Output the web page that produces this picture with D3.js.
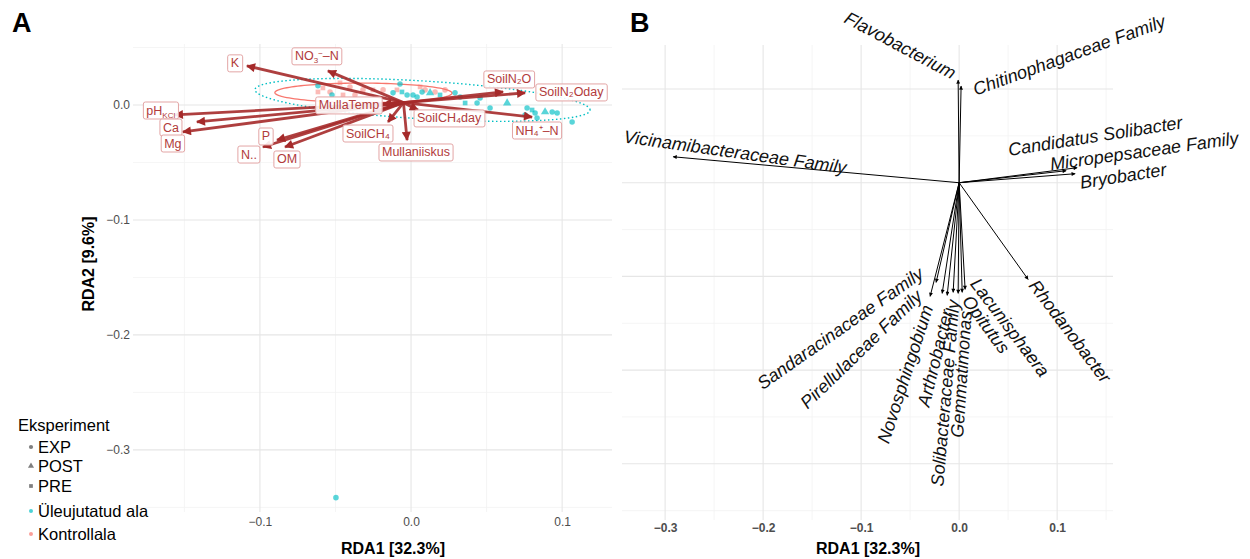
<!DOCTYPE html>
<html>
<head>
<meta charset="utf-8">
<script src="https://cdn.jsdelivr.net/npm/d3@7"></script>
<style>
  body { margin: 0; background: #fff; }
  svg { font-family: 'Liberation Sans', Arial, sans-serif; }
</style>
</head>
<body>
<div id="chart"></div>
<script>
// ---- panel A: environmental vectors (RDA biplot) ----
const envLabels = ['K', 'NO_{3}^{−}–N', 'pH_{KCl}', 'Ca', 'Mg', 'P', 'N..', 'OM', 'MullaTemp',
  'SoilN₂O', 'SoilN₂Oday', 'SoilCH₄day', 'NH₄⁺–N', 'SoilCH₄', 'Mullaniiskus']
const envX = [-0.1086, -0.055, -0.1563, -0.1417, -0.151, -0.0887, -0.098, -0.0834, -0.0185,
  0.0609, 0.0755, 0.0046, 0.0801, -0.0152, -0.0026]
const envY = [0.034, 0.0296, -0.0087, -0.0148, -0.0235, -0.0305, -0.0366, -0.0366, 0.0009,
  0.0113, 0.0105, -0.0044, -0.0105, -0.0148, -0.0305]
const envLabelX = [-0.1166, -0.0623, -0.1656, -0.1589, -0.1576, -0.096, -0.1073, -0.0821, -0.0411,
  0.0649, 0.106, 0.0252, 0.0834, -0.0285, 0.0033]
const envLabelY = [0.0366, 0.0427, -0.0044, -0.0192, -0.0331, -0.027, -0.0427, -0.047, 0,
  0.0226, 0.0113, -0.0113, -0.0218, -0.0244, -0.0409]
const envOrigin = [-0.005, 0.002]

// site scores, flooded area
const floodX = [-0.0616, -0.0523, -0.0119, -0.006, -0.0026, -0.0073, 0.0013, 0.004, 0.0073, 0.0126,
  0.0192, 0.0291, 0.0325, 0.0358, 0.0437, 0.0523, 0.0636, 0.0755, 0.0768, 0.0801,
  0.0821, 0.0834, 0.0887, 0.0934, 0.0967, 0.1066, -0.0497, 0.0457]
const floodY = [0.0166, 0.0087, 0.0105, 0.0113, 0.0087, 0.0183, 0.0087, 0.007, 0.0113, 0.0105,
  0.0087, 0.0105, 0.007, 0.0017, 0.0017, -0.0026, 0.0017, -0.0087, -0.0026, -0.0044,
  -0.007, -0.0113, -0.0061, -0.0061, -0.007, -0.0148, -0.3415, 0.0061]
const floodExp = ['EXP', 'EXP', 'EXP', 'PRE', 'EXP', 'EXP', 'EXP', 'EXP', 'EXP', 'POST',
  'PRE', 'EXP', 'EXP', 'PRE', 'EXP', 'EXP', 'POST', 'EXP', 'EXP', 'PRE',
  'EXP', 'EXP', 'POST', 'EXP', 'EXP', 'EXP', 'EXP', 'EXP']

// site scores, control area
const controlX = [-0.0616, -0.0583, -0.0536, -0.047, -0.045, -0.0404, -0.0371, -0.0318, -0.0252,
  -0.0185, -0.0093, 0.006, 0.0093, 0.0159, 0.0225]
const controlY = [0.0113, 0.0148, 0.0113, 0.0192, 0.0087, 0.0157, 0.0087, 0.0131, 0.0131,
  0.0131, 0.0131, 0.0157, 0.0131, 0.0113, 0.0131]
const controlExp = ['PRE', 'PRE', 'EXP', 'PRE', 'PRE', 'EXP', 'EXP', 'EXP', 'PRE',
  'EXP', 'PRE', 'PRE', 'EXP', 'EXP', 'EXP']

// group ellipses (centre, half axes, tilt as dy/dx)
const ellipseGroups = ['Üleujutatud ala', 'Kontrollala']
const ellipseCx = [0.0076, -0.0315]
const ellipseCy = [0.0044, 0.0105]
const ellipseRx = [0.1109, 0.0586]
const ellipseRy = [0.0165, 0.0085]
const ellipseSlope = [-0.079, -0.004]

const legendShapes = ['EXP', 'POST', 'PRE']
const legendGroups = ['Üleujutatud ala', 'Kontrollala']

// ---- panel B: taxa vectors ----
const taxa = ['Flavobacterium', 'Chitinophagaceae Family', 'Vicinamibacteraceae Family',
  'Candidatus Solibacter', 'Micropepsaceae Family', 'Bryobacter', 'Rhodanobacter',
  'Lacunisphaera', 'Opitutus', 'Gemmatimonas', 'Solibacteraceae Family', 'Arthrobacter',
  'Novosphingobium', 'Pirellulaceae Family', 'Sandaracinaceae Family']
const taxaX = [-0.001, 0.002, -0.2918, 0.1204, 0.1092, 0.1184, 0.0704,
  0.0061, 0.0031, -0.001, -0.0061, -0.0122, -0.0173, -0.0296, -0.0235]
const taxaY = [0.1096, 0.1032, 0.0277, 0.016, 0.0128, 0.0096, -0.1032,
  -0.1138, -0.117, -0.1181, -0.117, -0.1202, -0.1181, -0.1213, -0.1064]
const taxaLabelX = [-0.06, 0.1122, -0.2286, 0.1388, 0.1888, 0.1673, 0.1133,
  0.052, 0.0276, 0.002, -0.0143, -0.0245, -0.0551, -0.1, -0.1214]
const taxaLabelY = [0.1468, 0.1362, 0.033, 0.05, 0.034, 0.0074, -0.1585,
  -0.1543, -0.1511, -0.2043, -0.2245, -0.1872, -0.2043, -0.1777, -0.1553]
const taxaAngle = [28, -20, 8, -9, -8, -9, 53, 53, 54, -86, -85, -76, -72, -44, -35]

const width = 1250
const height = 559
const gridMajor = '#e6e6e6'
const gridMinor = '#f3f3f3'
const tickColor = '#4d4d4d'
const cyan = '#00BFC4'
const salmon = '#F8766D'
const arrowRed = '#a52a2a'

const svg = d3.select('#chart').append('svg')
  .attr('width', width)
  .attr('height', height)
  .attr('viewBox', [0, 0, width, height])

const defs = svg.append('defs')

defs.append('marker')
  .attr('id', 'headA')
  .attr('viewBox', '0 0 10 10')
  .attr('refX', 9).attr('refY', 5)
  .attr('markerUnits', 'userSpaceOnUse')
  .attr('markerWidth', 10).attr('markerHeight', 9)
  .attr('orient', 'auto')
  .append('path')
  .attr('d', 'M0,0L10,5L0,10z')
  .attr('fill', arrowRed)

defs.append('marker')
  .attr('id', 'headB')
  .attr('viewBox', '0 0 10 10')
  .attr('refX', 9).attr('refY', 5)
  .attr('markerUnits', 'userSpaceOnUse')
  .attr('markerWidth', 5).attr('markerHeight', 4)
  .attr('orient', 'auto')
  .append('path')
  .attr('d', 'M0,0L10,5L0,10z')
  .attr('fill', '#000')

const grid = (g, x, y, xMajor, xMinor, yMajor, yMinor) => {
  const [x0, x1] = x.range()
  const [y0, y1] = y.range()
  g.selectAll('line.vmin').data(xMinor).join('line')
    .attr('x1', d => x(d)).attr('x2', d => x(d)).attr('y1', y0).attr('y2', y1)
    .attr('stroke', gridMinor).attr('stroke-width', 0.8)
  g.selectAll('line.hmin').data(yMinor).join('line')
    .attr('x1', x0).attr('x2', x1).attr('y1', d => y(d)).attr('y2', d => y(d))
    .attr('stroke', gridMinor).attr('stroke-width', 0.8)
  g.selectAll('line.vmaj').data(xMajor).join('line')
    .attr('class', 'vmaj')
    .attr('x1', d => x(d)).attr('x2', d => x(d)).attr('y1', y0).attr('y2', y1)
    .attr('stroke', gridMajor).attr('stroke-width', 1.1)
  g.selectAll('line.hmaj').data(yMajor).join('line')
    .attr('class', 'hmaj')
    .attr('x1', x0).attr('x2', x1).attr('y1', d => y(d)).attr('y2', d => y(d))
    .attr('stroke', gridMajor).attr('stroke-width', 1.1)
}

const fmt = d3.format('.1f')

// ================= Panel A =================
const xA = d3.scaleLinear().domain([-0.184, 0.133]).range([133, 612])
const yA = d3.scaleLinear().domain([0.053, -0.354]).range([44, 512])

const gA = svg.append('g')
grid(gA.append('g'), xA, yA, [-0.1, 0, 0.1], [-0.15, -0.05, 0.05],
  [0, -0.1, -0.2, -0.3], [0.05, -0.05, -0.15, -0.25, -0.35])

gA.append('g')
  .attr('transform', `translate(0,${yA.range()[1]})`)
  .call(d3.axisBottom(xA).tickValues([-0.1, 0, 0.1]).tickFormat(fmt).tickSize(0).tickPadding(5))
  .call(g => g.select('.domain').remove())
  .call(g => g.selectAll('text').attr('fill', tickColor).attr('font-size', 12).attr('font-family', null))

gA.append('g')
  .attr('transform', `translate(${xA.range()[0] - 1},0)`)
  .call(d3.axisLeft(yA).tickValues([0, -0.1, -0.2, -0.3]).tickFormat(fmt).tickSize(0).tickPadding(2))
  .call(g => g.select('.domain').remove())
  .call(g => g.selectAll('text').attr('fill', tickColor).attr('font-size', 12).attr('font-family', null))

// ellipses
const ellipsePath = i => {
  const pts = d3.range(0, 2 * Math.PI + 0.01, Math.PI / 60).map(t => {
    const dx = ellipseRx[i] * Math.cos(t)
    return [xA(ellipseCx[i] + dx), yA(ellipseCy[i] + ellipseSlope[i] * dx + ellipseRy[i] * Math.sin(t))]
  })
  return d3.line()(pts) + 'Z'
}
gA.append('path')
  .attr('d', ellipsePath(1))
  .attr('fill', 'none')
  .attr('stroke', salmon)
  .attr('stroke-width', 1.3)
gA.append('path')
  .attr('d', ellipsePath(0))
  .attr('fill', 'none')
  .attr('stroke', cyan)
  .attr('stroke-width', 1.4)
  .attr('stroke-dasharray', '1.5,2.5')

const shapeOf = {
  EXP: d3.symbol().type(d3.symbolCircle).size(24),
  POST: d3.symbol().type(d3.symbolTriangle).size(30),
  PRE: d3.symbol().type(d3.symbolSquare).size(22)
}

const drawSites = (xs, ys, exps, color, opacity) => {
  gA.append('g').selectAll('path').data(d3.range(xs.length)).join('path')
    .attr('transform', i => `translate(${xA(xs[i])},${yA(ys[i])})`)
    .attr('d', i => shapeOf[exps[i]]())
    .attr('fill', color)
    .attr('fill-opacity', opacity)
}
drawSites(controlX, controlY, controlExp, salmon, 0.5)
drawSites(floodX, floodY, floodExp, cyan, 0.65)

// vectors
gA.append('g').selectAll('line').data(d3.range(envLabels.length)).join('line')
  .attr('x1', xA(envOrigin[0]))
  .attr('y1', yA(envOrigin[1]))
  .attr('x2', i => xA(envX[i]))
  .attr('y2', i => yA(envY[i]))
  .attr('stroke', arrowRed)
  .attr('stroke-opacity', 0.9)
  .attr('stroke-width', 2.8)
  .attr('marker-end', 'url(#headA)')

// labels with boxes
const labels = gA.append('g').selectAll('g').data(d3.range(envLabels.length)).join('g')
  .attr('transform', i => `translate(${xA(envLabelX[i])},${yA(envLabelY[i])})`)

labels.append('rect')
  .attr('fill', 'white')
  .attr('fill-opacity', 0.9)
  .attr('stroke', '#e3a5a5')
  .attr('stroke-width', 1)
  .attr('rx', 2)

labels.append('text')
  .attr('text-anchor', 'middle')
  .attr('y', 4.5)
  .attr('font-size', 12.5)
  .attr('fill', '#b23b3b')
  .each(function (i) {
    const text = d3.select(this)
    const parts = envLabels[i].split(/(_\{[^}]*\}|\^\{[^}]*\})/).filter(Boolean)
    let shift = 0
    parts.forEach(p => {
      let t = p
      let s = 0
      let small = false
      if (p[0] === '_') { t = p.slice(2, -1); s = 3; small = true }
      if (p[0] === '^') { t = p.slice(2, -1); s = -4; small = true }
      text.append('tspan')
        .attr('dy', s - shift)
        .attr('font-size', small ? 8 : null)
        .text(t)
      shift = s
    })
  })

labels.each(function () {
  const g = d3.select(this)
  const b = g.select('text').node().getBBox()
  g.select('rect')
    .attr('x', b.x - 3)
    .attr('y', -8)
    .attr('width', b.width + 6)
    .attr('height', 17)
})

// axis titles
svg.append('text')
  .attr('x', 393).attr('y', 554)
  .attr('text-anchor', 'middle')
  .attr('font-size', 16).attr('font-weight', 'bold')
  .text('RDA1 [32.3%]')

svg.append('text')
  .attr('transform', 'translate(94,264) rotate(-90)')
  .attr('text-anchor', 'middle')
  .attr('font-size', 16).attr('font-weight', 'bold')
  .text('RDA2 [9.6%]')

svg.append('text')
  .attr('x', 12).attr('y', 32)
  .attr('font-size', 27).attr('font-weight', 'bold')
  .text('A')

// legend
const legend = svg.append('g')
legend.append('text')
  .attr('x', 18).attr('y', 431)
  .attr('font-size', 16.5)
  .text('Eksperiment')

const legendY = [447, 466, 486, 511, 534]
legend.selectAll('path.shape').data(legendShapes).join('path')
  .attr('transform', (d, i) => `translate(31,${legendY[i]})`)
  .attr('d', d => d3.symbol().type(d === 'EXP' ? d3.symbolCircle : d === 'POST' ? d3.symbolTriangle : d3.symbolSquare)
    .size(d === 'EXP' ? 14 : d === 'POST' ? 16 : 14)())
  .attr('fill', '#7f7f7f')
legend.selectAll('circle.grp').data(legendGroups).join('circle')
  .attr('cx', 31)
  .attr('cy', (d, i) => legendY[i + 3])
  .attr('r', 2)
  .attr('fill', (d, i) => i === 0 ? cyan : salmon)
  .attr('fill-opacity', 0.7)
legend.selectAll('text.item').data([...legendShapes, ...legendGroups]).join('text')
  .attr('x', 38)
  .attr('y', (d, i) => legendY[i] + 6)
  .attr('font-size', 16.5)
  .text(d => d)

// ================= Panel B =================
const xB = d3.scaleLinear().domain([-0.344, 0.157]).range([622, 1113])
const yB = d3.scaleLinear().domain([0.147, -0.36]).range([45, 520])

const gB = svg.append('g')
grid(gB.append('g'), xB, yB, [-0.3, -0.2, -0.1, 0, 0.1], [-0.25, -0.15, -0.05, 0.05, 0.15],
  [0.1, 0, -0.1, -0.2, -0.3], [0.05, -0.05, -0.15, -0.25, -0.35])

gB.append('g')
  .attr('transform', `translate(0,${yB.range()[1]})`)
  .call(d3.axisBottom(xB).tickValues([-0.3, -0.2, -0.1, 0, 0.1]).tickFormat(fmt).tickSize(0).tickPadding(3))
  .call(g => g.select('.domain').remove())
  .call(g => g.selectAll('text').attr('fill', tickColor).attr('font-size', 12)
    .attr('font-weight', 'bold').attr('font-family', null))

gB.append('g').selectAll('line').data(d3.range(taxa.length)).join('line')
  .attr('x1', xB(0))
  .attr('y1', yB(0))
  .attr('x2', i => xB(taxaX[i]))
  .attr('y2', i => yB(taxaY[i]))
  .attr('stroke', '#000')
  .attr('stroke-width', 1)
  .attr('marker-end', 'url(#headB)')

gB.append('g').selectAll('text').data(d3.range(taxa.length)).join('text')
  .attr('transform', i => `translate(${xB(taxaLabelX[i])},${yB(taxaLabelY[i])}) rotate(${taxaAngle[i]})`)
  .attr('text-anchor', 'middle')
  .attr('dy', '0.35em')
  .attr('font-size', 18)
  .attr('font-style', 'italic')
  .attr('fill', '#111')
  .text(i => taxa[i])

svg.append('text')
  .attr('x', 868).attr('y', 554)
  .attr('text-anchor', 'middle')
  .attr('font-size', 16).attr('font-weight', 'bold')
  .text('RDA1 [32.3%]')

svg.append('text')
  .attr('x', 630).attr('y', 32)
  .attr('font-size', 27).attr('font-weight', 'bold')
  .text('B')
</script>
</body>
</html>
